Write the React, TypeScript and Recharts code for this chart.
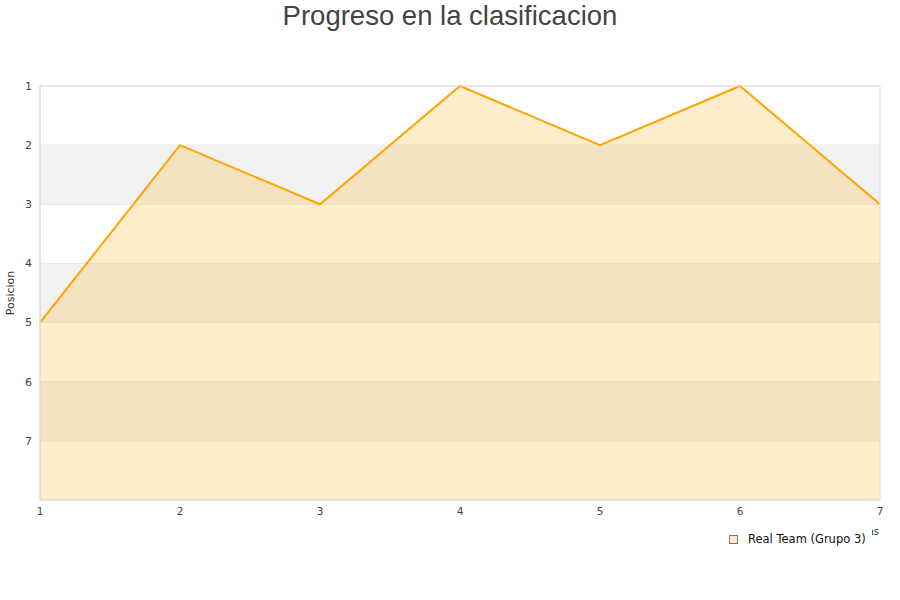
import React from "react";
import { AreaChart, Area, XAxis, YAxis, CartesianGrid, ReferenceArea, Legend } from "recharts";

const jornadas = [1, 2, 3, 4, 5, 6, 7];
const posiciones = [5, 2, 3, 1, 2, 1, 3];
const yTicks = [1, 2, 3, 4, 5, 6, 7];
const bands = [[2, 3], [4, 5], [6, 7]];
const seriesName = "Real Team (Grupo 3)";
const title = "Progreso en la clasificacion";

const data = jornadas.map((j, i) => ({ j, pos: posiciones[i] }));

const LegendContent = () => (
  <div style={{ display: "flex", alignItems: "center", fontFamily: "DejaVu Sans", fontSize: 11.5, color: "#111", background: "#fff", height: 24, paddingLeft: 14 }}>
    <span style={{ display: "inline-block", width: 7, height: 7, background: "#fdeccc", border: "1px solid #777", marginRight: 10 }} />
    <span>{seriesName}</span>
  </div>
);

const XLabel = (props: any) => {
  const vb = props.viewBox || {};
  return (
    <text x={vb.x + vb.width - 1} y={535} textAnchor="end" fontFamily="DejaVu Sans" fontSize={10} fill="#333">Jornadas</text>
  );
};

export default function App() {
  return (
    <div style={{ position: "absolute", left: 0, top: 0, width: 900, height: 600, background: "#fff" }}>
      <div style={{ position: "absolute", top: 0, left: 0, width: 900, textAlign: "center", fontFamily: "Liberation Sans", fontSize: 27.5, color: "#444", lineHeight: "32px" }}>
        {title}
      </div>
      <AreaChart width={900} height={600} data={data} margin={{ top: 86, right: 20, bottom: 46, left: 8 }}>
        {bands.map(([a, b]) => (
          <ReferenceArea key={a} y1={a} y2={b} fill="#f2f2f2" fillOpacity={1} stroke="none" ifOverflow="extendDomain" />
        ))}
        <CartesianGrid vertical={false} stroke="#e2e2e2" strokeDasharray="" />
        <XAxis dataKey="j" type="number" domain={[1, 7]} ticks={jornadas} tickLine={false} axisLine={{ stroke: "#dcdcdc" }}
          tick={{ fontFamily: "DejaVu Sans", fontSize: 10.5, fill: "#444" }} height={30} label={<XLabel />} />
        <YAxis reversed type="number" domain={[1, 8]} ticks={yTicks} tickLine={false} axisLine={{ stroke: "#dcdcdc" }}
          width={32} tick={{ fontFamily: "DejaVu Sans", fontSize: 11, fill: "#444" }} interval={0}
          label={{ value: "Posicion", angle: -90, position: "insideLeft", offset: 2, style: { fontFamily: "DejaVu Sans", fontSize: 11, fill: "#333", textAnchor: "middle" } }} />
        <Area type="linear" dataKey="pos" name={seriesName} stroke="#ffa500" strokeWidth={2} fill="#ffa500" fillOpacity={0.2}
          baseValue={8} isAnimationActive={false} dot={false} activeDot={false} />
        <ReferenceArea x1={1} x2={7} y1={1} y2={8} fill="none" stroke="#dcdcdc" ifOverflow="visible" />
        <Legend content={<LegendContent />} wrapperStyle={{ position: "absolute", left: 715, top: 527, width: 157, height: 24 }} />
      </AreaChart>
    </div>
  );
}
